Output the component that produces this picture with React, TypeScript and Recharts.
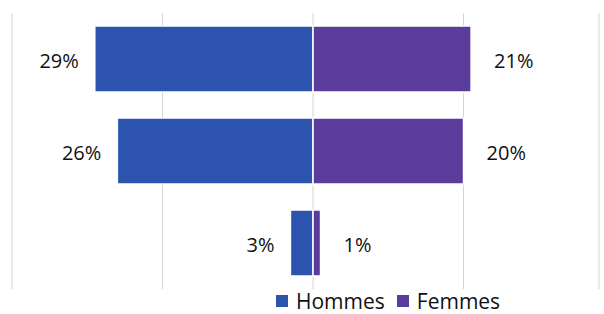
import { Bar, BarChart, CartesianGrid, LabelList, Legend, XAxis, YAxis } from "recharts";

const groups = ["Groupe 1", "Groupe 2", "Groupe 3"];
const hommes = [29, 26, 3];
const femmes = [21, 20, 1];

const BLUE = "#2c54ae";
const PURPLE = "#5a3c9c";

const data = groups.map((g, i) => ({
  groupe: g,
  Hommes: -hommes[i],
  Femmes: femmes[i],
}));

const LeftLabel = (props: any) => {
  const { x, y, width, height, value } = props;
  const left = Math.min(x, x + width);
  return (
    <text
      x={left - 16}
      y={y + height / 2 + 2}
      textAnchor="end"
      dominantBaseline="central"
      fontSize={20}
      fill="#111"
    >
      {`${Math.abs(value)}%`}
    </text>
  );
};

const RightLabel = (props: any) => {
  const { x, y, width, height, value } = props;
  const right = Math.max(x, x + width);
  return (
    <text
      x={right + 23}
      y={y + height / 2 + 2}
      textAnchor="start"
      dominantBaseline="central"
      fontSize={20}
      fill="#111"
    >
      {`${value}%`}
    </text>
  );
};

const LegendBox = () => (
  <div style={{ display: "flex", alignItems: "center", fontSize: 21, color: "#111", lineHeight: "20px" }}>
    <span style={{ width: 12, height: 12, background: BLUE, display: "inline-block", marginRight: 8 }} />
    <span style={{ marginRight: 12 }}>Hommes</span>
    <span style={{ width: 12, height: 12, background: PURPLE, display: "inline-block", marginRight: 8 }} />
    <span>Femmes</span>
  </div>
);

export default function App() {
  return (
    <div style={{ position: "absolute", left: 0, top: 0, width: 604, height: 314, overflow: "hidden", background: "#fff", fontFamily: "'Open Sans', sans-serif" }}>
      <BarChart
        width={604}
        height={314}
        data={data}
        layout="vertical"
        stackOffset="sign"
        barCategoryGap="14%"
        margin={{ top: 13, right: 5, bottom: 5, left: 12 }}
      >
        <CartesianGrid horizontal={false} stroke="#d4d4d4" />
        <XAxis type="number" domain={[-40, 38]} ticks={[-40, -20, 0, 20]} hide />
        <YAxis type="category" dataKey="groupe" hide />
        <Legend
          content={<LegendBox />}
          wrapperStyle={{ position: "absolute", left: 276, top: 291, width: 260, height: 20 }}
        />
        <Bar dataKey="Hommes" stackId="a" fill={BLUE} stroke="#fff" strokeWidth={1.5} isAnimationActive={false}>
          <LabelList dataKey="Hommes" content={LeftLabel} />
        </Bar>
        <Bar dataKey="Femmes" stackId="a" fill={PURPLE} stroke="#fff" strokeWidth={1.5} isAnimationActive={false}>
          <LabelList dataKey="Femmes" content={RightLabel} />
        </Bar>
      </BarChart>
    </div>
  );
}
